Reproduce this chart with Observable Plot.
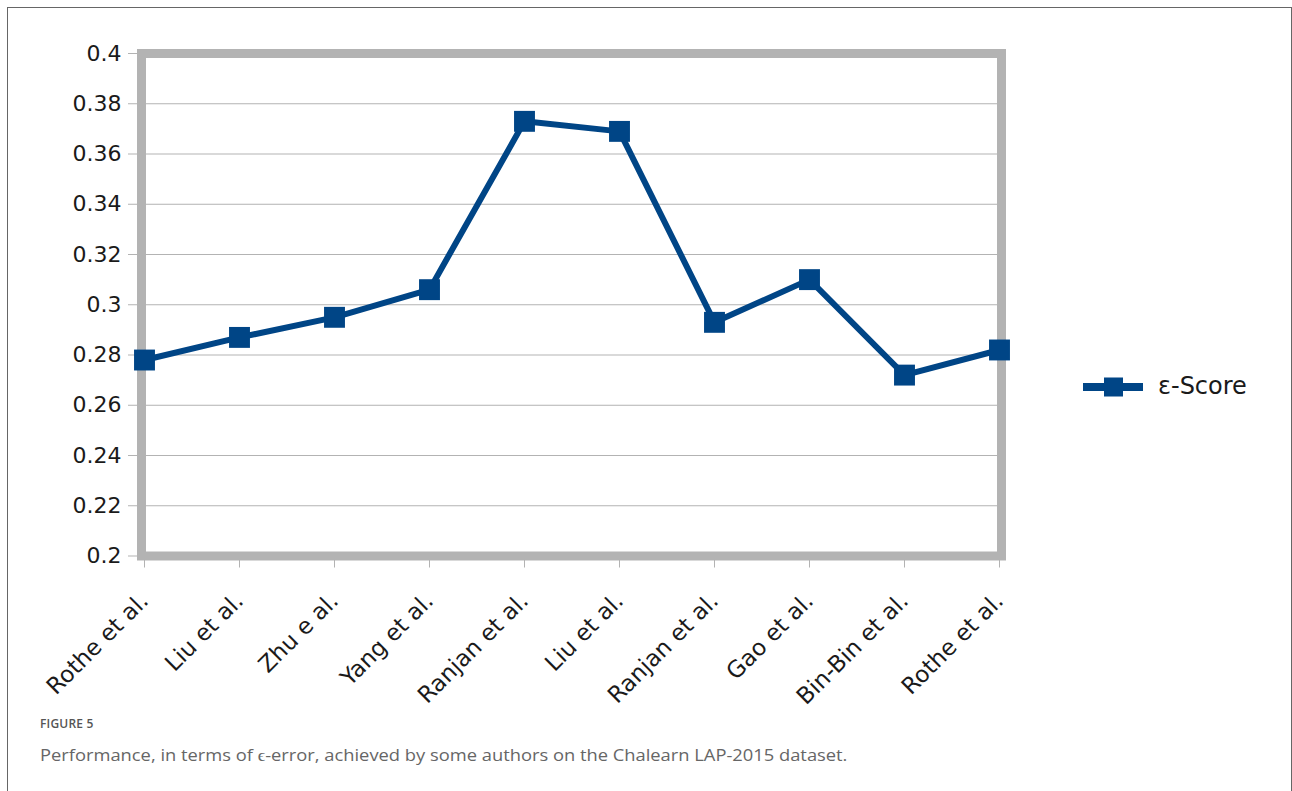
<!DOCTYPE html>
<html><head><meta charset="utf-8">
<script src="https://cdn.jsdelivr.net/npm/d3@7"></script>
<script src="https://cdn.jsdelivr.net/npm/@observablehq/plot@0.6"></script>
<style>
body{margin:0;background:#fff;width:1292px;height:791px;overflow:hidden;position:relative;font-family:"DejaVu Sans",sans-serif}
#frame{position:absolute;left:7px;top:7px;width:1285px;height:820px;border:1px solid #666;border-bottom:none;box-sizing:border-box}
#chart{position:absolute;left:0;top:0}
#legend{position:absolute;left:1078px;top:372px;width:200px;height:30px}
#legend svg{position:absolute;left:0;top:0}
#legend span{position:absolute;left:80px;top:0;line-height:30px;font:24px "DejaVu Sans";color:#1a1a1a;white-space:nowrap}
#fig{position:absolute;left:40px;top:716px;font:600 12px "Open Sans";color:#555;letter-spacing:0.2px;line-height:16px}
#cap{position:absolute;left:40px;top:745px;font:16px "Open Sans";color:#666;white-space:nowrap;line-height:20px;transform:scaleX(1.145);transform-origin:0 0}
</style>
</head><body>
<div id="frame"></div>
<div id="chart"></div>
<div id="legend"><svg width="70" height="30"><line x1="5" x2="65" y1="15" y2="15" stroke="#004586" stroke-width="8"/><rect x="26" y="5.5" width="19" height="19" fill="#004586"/></svg><span id="legtext"></span></div>
<div id="fig">FIGURE 5</div>
<div id="cap">Performance, in terms of ϵ-error, achieved by some authors on the Chalearn LAP-2015 dataset.</div>
<script>
const authors = ["Rothe et al.","Liu et al.","Zhu e al.","Yang et al.","Ranjan et al.","Liu et al.","Ranjan et al.","Gao et al.","Bin-Bin et al.","Rothe et al."];
const scores = [0.278,0.287,0.295,0.306,0.373,0.369,0.293,0.310,0.272,0.282];
const yTicks = [0.2,0.22,0.24,0.26,0.28,0.3,0.32,0.34,0.36,0.38,0.4];
const seriesName = "ε-Score";
document.getElementById("legtext").textContent = seriesName;
const idx = d3.range(authors.length);
const data = idx.map(i => ({i, v: scores[i]}));
const chart = Plot.plot({
  width: 1292,
  height: 710,
  marginLeft: 141,
  marginRight: 291,
  marginTop: 53,
  marginBottom: 154.5,
  style: {fontFamily: "DejaVu Sans", background: "transparent"},
  x: {type: "point", domain: idx, padding: 0},
  y: {domain: [0.2, 0.4]},
  marks: [
    Plot.gridY(yTicks, {stroke: "#b3b3b3", strokeOpacity: 1, strokeWidth: 1}),
    Plot.axisY({ticks: yTicks, tickFormat: d => String(+d.toFixed(2)), tickSize: 13, tickPadding: 7, fontSize: 22, stroke: "#b3b3b3", strokeOpacity: 1, fill: "#1a1a1a", label: null}),
    Plot.axisX({ticks: idx, tickFormat: i => authors[i], tickRotate: -45, tickSize: 12, tickPadding: 29, fontSize: 23, stroke: "#b3b3b3", strokeOpacity: 1, fill: "#1a1a1a", label: null}),
    Plot.frame({stroke: "#b3b3b3", strokeWidth: 9}),
    Plot.line(data, {x: "i", y: "v", stroke: "#004586", strokeWidth: 6}),
    Plot.dot(data, {x: "i", y: "v", symbol: "square", r: 11.8, fill: "#004586", stroke: "none"})
  ]
});
document.getElementById("chart").appendChild(chart);
</script>
</body></html>
